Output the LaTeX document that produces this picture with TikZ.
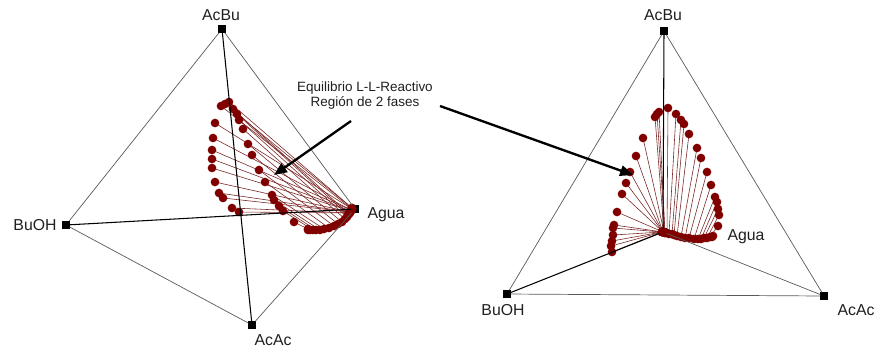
\documentclass[tikz,border=0pt]{standalone}
\usepackage{fontspec}
\setmainfont{Liberation Sans}
\usetikzlibrary{arrows.meta}

\definecolor{dotred}{RGB}{128,0,0}
\definecolor{tiered}{RGB}{122,38,38}
\definecolor{edgegray}{RGB}{90,90,90}

\tikzset{
  vert/.style={fill=black, inner sep=0pt, minimum size=6pt},
  vlab/.style={font=\fontsize{13.5}{16}\selectfont, text=black!88, anchor=base, inner sep=0pt},
  outeredge/.style={edgegray, line width=0.6pt},
  inneredge/.style={black, line width=0.9pt},
  tie/.style={tiered, line width=0.5pt},
  phasedot/.style={fill=dotred},
  bigarrow/.style={black, line width=2pt, -{Triangle[length=11pt,width=9pt]}},
}

% organic x/y / aqueous x/y, left view
\def\tiesL{229/102/352/208, 225/104/352/208, 221/106/352/209, 215/123/352/209,
  213/138/351/210, 212/150/351/210, 212/159/351/211, 212/168/351/211,
  215/182/350/212, 219/193/350/212, 223/198/350/212, 232/208/350/213,
  239/212/349/213, 233/109/349/214, 237/114/348/215, 239/120/347/217,
  243/129/345/219, 248/144/342/222, 252/155/338/224, 259/170/334/226,
  265/182/329/228, 272/195/324/229, 274/200/320/230, 279/206/316/230,
  283/211/313/230, 294/222/310/230, 308/229/308/230}
% organic x/y / aqueous x/y, right view
\def\tiesR{612/252/662/232, 611/246/662/232, 612/241/662/232, 613/235/662/232,
  613/228/662/232, 614/225/663/232, 617/212/663/232, 622/194/663/232,
  626/183/663/232, 630/172/663/232, 636/156/663/232, 643/138/664/232,
  655/117/664/232, 657/114/665/233, 659/112/665/233, 668/108/667/233,
  676/114/669/234, 681/120/672/234, 684/124/674/235, 689/134/677/236,
  697/148/681/237, 701/158/685/238, 707/172/689/238, 711/185/694/239,
  715/197/698/239, 717/202/701/239, 718/209/704/238, 719/215/707/238,
  718/226/710/237, 713/236/712/237}

\begin{document}
\begin{tikzpicture}[x=0.03cm, y=-0.03cm]
  \useasboundingbox (0,0) rectangle (877,351);

  % left view
  \node[vert] (AcBuL) at (222,29) {};
  \node[vert] (BuOHL) at (66,225) {};
  \node[vert] (AcAcL) at (252,325) {};
  \node[vert] (AguaL) at (355,209) {};
  \node[vlab] (tAcBuL) at (221,20) {AcBu};
  \node[vlab] (tBuOHL) at (35,230) {BuOH};
  \node[vlab] (tAcAcL) at (273,345) {AcAc};
  \node[vlab] (tAguaL) at (386,218) {Agua};

  % right view
  \node[vert] (AcBuR) at (664,31) {};
  \node[vert] (BuOHR) at (507,294) {};
  \node[vert] (AcAcR) at (824,296) {};
  \node[vert] (AguaR) at (663,232) {};
  \node[vlab] (tAcBuR) at (663,20) {AcBu};
  \node[vlab] (tBuOHR) at (503,315) {BuOH};
  \node[vlab] (tAcAcR) at (856,315) {AcAc};
  \node[vlab] (tAguaR) at (746,240) {Agua};

  % tie lines and phase points
  \foreach \ox/\oy/\ax/\ay in \tiesL
    \draw[tie] (\ox,\oy) -- (\ax,\ay);
  \foreach \ox/\oy/\ax/\ay in \tiesR
    \draw[tie] (\ox,\oy) -- (\ax,\ay);
  \foreach \ox/\oy/\ax/\ay in \tiesL {
    \fill[phasedot] (\ox,\oy) circle[radius=3.7pt];
    \fill[phasedot] (\ax,\ay) circle[radius=3.7pt];
  }
  \foreach \ox/\oy/\ax/\ay in \tiesR {
    \fill[phasedot] (\ox,\oy) circle[radius=3.7pt];
    \fill[phasedot] (\ax,\ay) circle[radius=3.7pt];
  }

  % edges
  \draw[outeredge] (AcBuL) -- (BuOHL) -- (AcAcL) -- (AguaL) -- (AcBuL);
  \draw[inneredge] (AcBuL) -- (AcAcL);
  \draw[inneredge] (BuOHL) -- (AguaL);
  \draw[outeredge] (AcBuR) -- (BuOHR) -- (AcAcR) -- (AcBuR);
  \draw[outeredge] (AcAcR) -- (AguaR);
  \draw[inneredge] (AcBuR) -- (AguaR);
  \draw[inneredge] (BuOHR) -- (AguaR);

  % label and arrows
  \node[font=\fontsize{11.5}{12.8}\selectfont, text=black!88, align=center] (fases) at (365,96)
    {Equilibrio L-L-Reactivo\\Región de 2 fases};
  \coordinate (tailL) at (351,121);
  \coordinate (tipL) at (274,175);
  \coordinate (tailR) at (440,106);
  \coordinate (tipR) at (633,175);
  \draw[bigarrow] (tailL) -- (tipL);
  \draw[bigarrow] (tailR) -- (tipR);
\end{tikzpicture}
\end{document}
